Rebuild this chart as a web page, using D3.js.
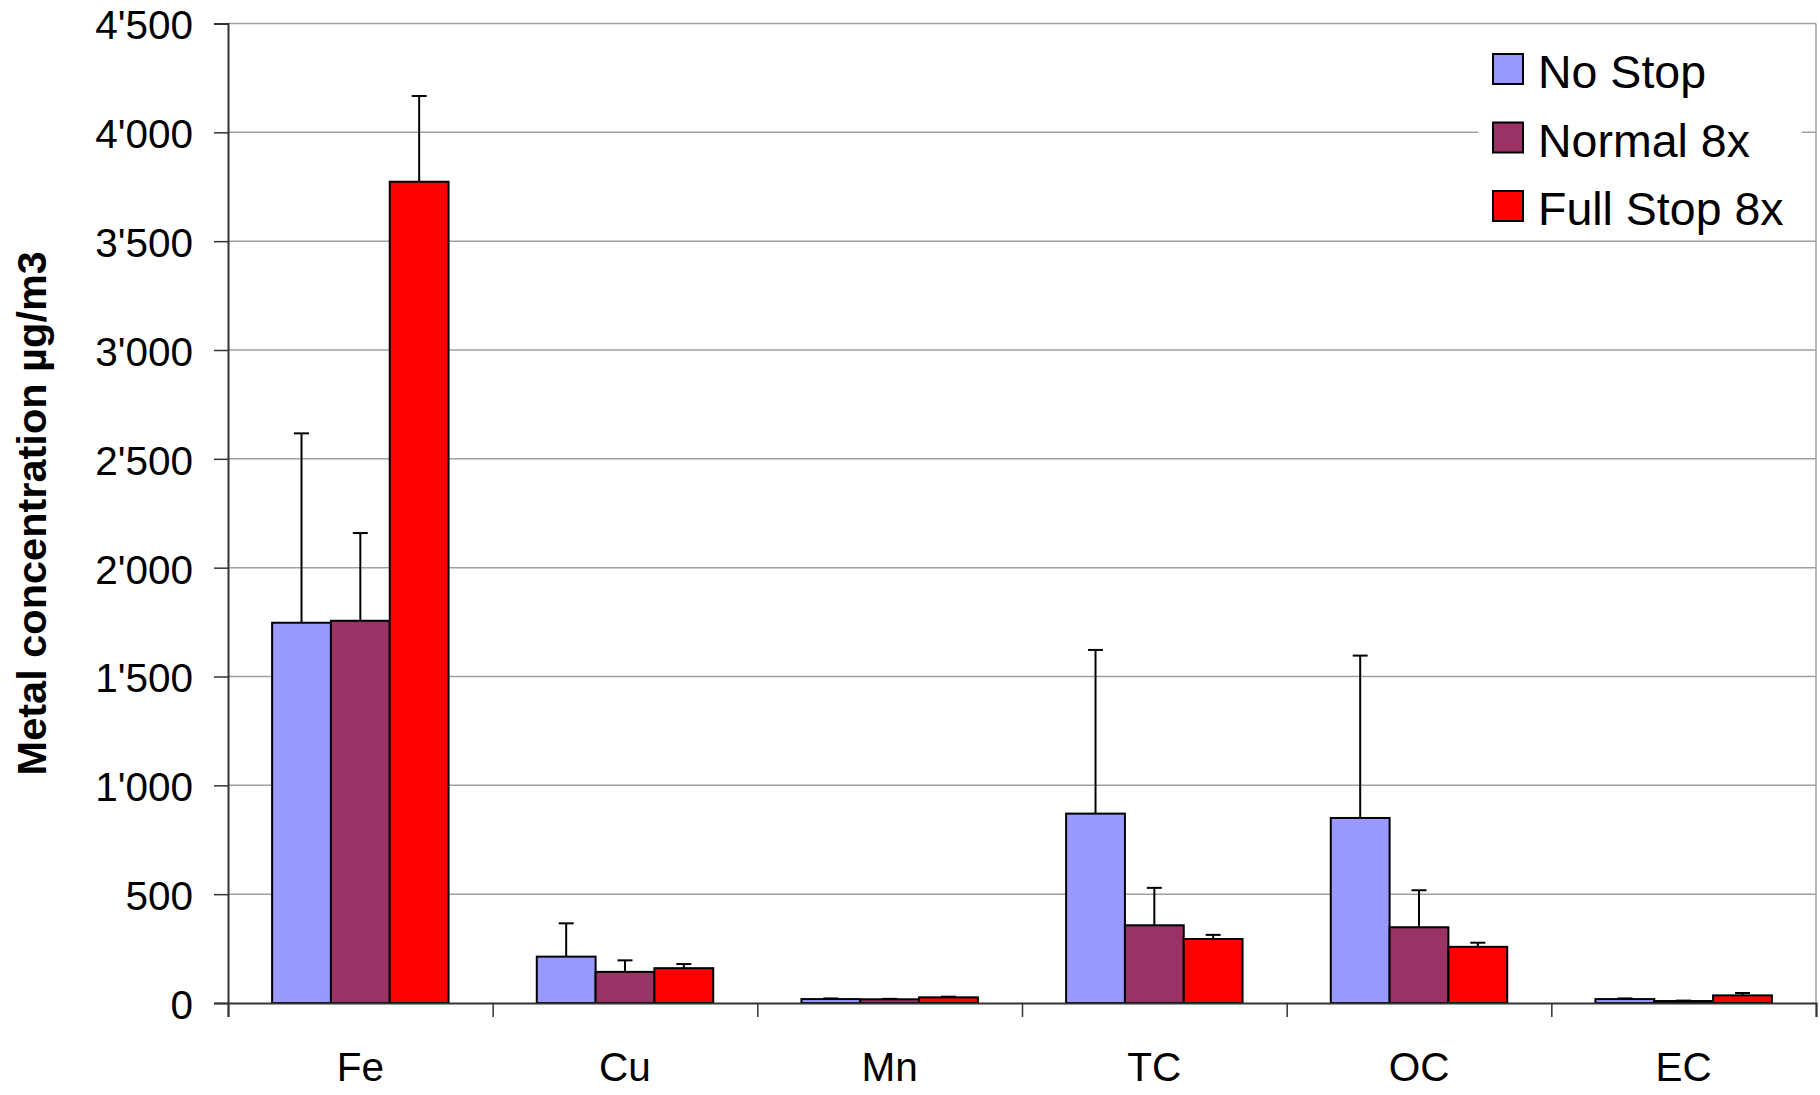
<!DOCTYPE html>
<html>
<head>
<meta charset="utf-8">
<script src="https://cdn.jsdelivr.net/npm/d3@7"></script>
<style>
  html, body { margin: 0; padding: 0; background: #fff; }
  svg { display: block; }
  text { font-family: "Liberation Sans", Arial, sans-serif; fill: #000; }
</style>
</head>
<body>
<svg id="chart" width="1820" height="1095"></svg>
<script>
const categories = ["Fe", "Cu", "Mn", "TC", "OC", "EC"];
const seriesNames = ["No Stop", "Normal 8x", "Full Stop 8x"];
const seriesColors = ["#9999FF", "#993366", "#FF0000"];
const noStop = [1747, 213, 18, 870, 850, 18];
const noStopErr = [870, 153, 3, 752, 746, 3];
const normal8x = [1756, 143, 17, 357, 348, 9];
const normal8xErr = [403, 53, 2, 172, 170, 2];
const fullStop8x = [3773, 160, 26, 294, 258, 35];
const fullStop8xErr = [394, 19, 3, 19, 19, 11];
const yTicks = [0, 500, 1000, 1500, 2000, 2500, 3000, 3500, 4000, 4500];
const yLabel = "Metal concentration µg/m3";

(function () {
const seriesValues = [noStop, normal8x, fullStop8x];
const seriesErrors = [noStopErr, normal8xErr, fullStop8xErr];

const svg = d3.select("#chart");
const pLeft = 228, pRight = 1816, pTop = 23.5, pBottom = 1003;

const x0 = d3.scaleBand().domain(categories).range([pLeft, pRight]).paddingInner(0).paddingOuter(0);
const bw = x0.bandwidth();
const gap = bw * 0.75 / 4.5;
const x1 = d3.scaleBand().domain(seriesNames).range([gap, bw - gap]).padding(0);
const y = d3.scaleLinear().domain([0, 4500]).range([pBottom, pTop]);

const locale = d3.formatLocale({decimal: ".", thousands: "'", grouping: [3], currency: ["", ""]});
const fmt = locale.format(",");

// gridlines
svg.append("g").selectAll("line").data(yTicks.filter(d => d > 0)).join("line")
  .attr("x1", pLeft).attr("x2", pRight)
  .attr("y1", d => y(d)).attr("y2", d => y(d))
  .attr("stroke", "#a0a0a0").attr("stroke-width", 1.5);

// right plot border
svg.append("line").attr("x1", pRight).attr("x2", pRight).attr("y1", y(4500)).attr("y2", y(0))
  .attr("stroke", "#a0a0a0").attr("stroke-width", 1.5);

// y axis
const yAxis = svg.append("g").attr("transform", `translate(${pLeft},0)`)
  .call(d3.axisLeft(y).tickValues(yTicks).tickFormat(fmt).tickSize(14).tickPadding(21));
yAxis.select(".domain").attr("stroke", "#333").attr("stroke-width", 2);
yAxis.selectAll(".tick line").attr("stroke", "#333").attr("stroke-width", 1.5);
yAxis.selectAll(".tick text").attr("font-size", 40.5).attr("fill", "#000")
  .attr("font-family", '"Liberation Sans", Arial, sans-serif').attr("dy", "0.38em");

// bars
const groups = svg.append("g").selectAll("g").data(categories).join("g")
  .attr("transform", d => `translate(${x0(d)},0)`);

const rows = (c, ci) => seriesNames.map((s, si) => ({s, si, v: seriesValues[si][ci], e: seriesErrors[si][ci]}));

groups.selectAll("rect").data(rows).join("rect")
  .attr("x", d => x1(d.s)).attr("width", x1.bandwidth())
  .attr("y", d => y(d.v)).attr("height", d => y(0) - y(d.v))
  .attr("fill", d => seriesColors[d.si]).attr("stroke", "#000").attr("stroke-width", 2);

// error bars (plus only)
const eb = groups.selectAll("g.err").data(rows).join("g").attr("class", "err");
eb.append("line")
  .attr("x1", d => x1(d.s) + x1.bandwidth() / 2).attr("x2", d => x1(d.s) + x1.bandwidth() / 2)
  .attr("y1", d => y(d.v)).attr("y2", d => y(d.v + d.e))
  .attr("stroke", "#000").attr("stroke-width", 2);
eb.append("line")
  .attr("x1", d => x1(d.s) + x1.bandwidth() / 2 - 7.5).attr("x2", d => x1(d.s) + x1.bandwidth() / 2 + 7.5)
  .attr("y1", d => y(d.v + d.e)).attr("y2", d => y(d.v + d.e))
  .attr("stroke", "#000").attr("stroke-width", 2);

// x axis
const xb = d3.scaleLinear().domain([0, categories.length]).range([pLeft, pRight]);
const xAxis = svg.append("g").attr("transform", `translate(0,${pBottom})`)
  .call(d3.axisBottom(xb).tickValues(d3.range(categories.length + 1)).tickFormat("").tickSize(14));
xAxis.select(".domain").attr("stroke", "#333").attr("stroke-width", 2);
xAxis.selectAll(".tick line").attr("stroke", "#333").attr("stroke-width", 1.5);

svg.append("g").selectAll("text").data(categories).join("text")
  .attr("x", d => x0(d) + bw / 2).attr("y", 1081)
  .attr("text-anchor", "middle").attr("font-size", 40.5).text(d => d);

// y label
svg.append("text").attr("transform", `translate(46,${(pTop + pBottom) / 2}) rotate(-90)`)
  .attr("text-anchor", "middle").attr("font-size", 41.5).attr("font-weight", "bold").text(yLabel);

// legend
const lg = svg.append("g");
lg.append("rect").attr("x", 1478).attr("y", 32).attr("width", 324).attr("height", 204).attr("fill", "#fff");
const items = lg.selectAll("g").data(seriesNames).join("g")
  .attr("transform", (d, i) => `translate(1493,${54 + i * 68.5})`);
items.append("rect").attr("width", 30).attr("height", 30)
  .attr("fill", (d, i) => seriesColors[i]).attr("stroke", "#000").attr("stroke-width", 2);
items.append("text").attr("x", 45).attr("y", 34).attr("font-size", 46.5).text(d => d);
})();
</script>
</body>
</html>
